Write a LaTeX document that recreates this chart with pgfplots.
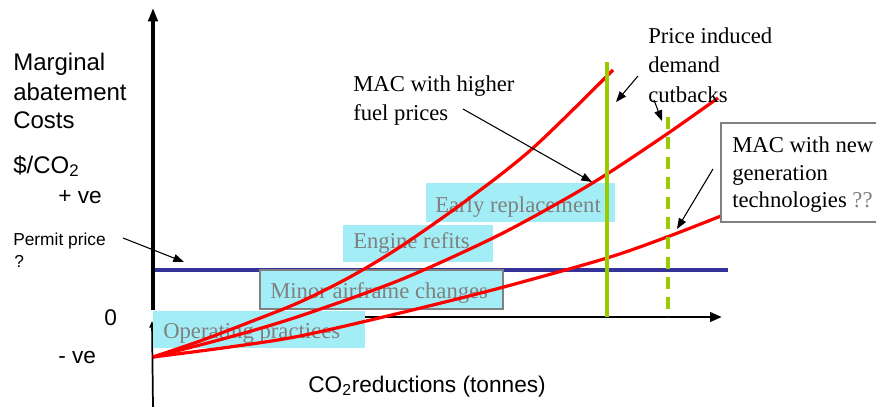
\documentclass[border=0pt]{standalone}
\usepackage{pgfplots}
\pgfplotsset{compat=1.18}
\usepackage{fontspec}
\setmainfont{Liberation Serif}
\newfontfamily\sansf{Liberation Sans}
\usetikzlibrary{arrows.meta}
\definecolor{boxcyan}{HTML}{A3EEF6}
\definecolor{permitblue}{HTML}{333399}
\definecolor{lgreen}{HTML}{99CC00}
\definecolor{boxgray}{HTML}{808080}
\begin{document}
\begin{tikzpicture}
\begin{axis}[
  hide axis, scale only axis,
  width=657pt, height=305.25pt,
  xmin=0, xmax=876, ymin=0, ymax=407,
  y dir=reverse, clip=false,
]
\coordinate (SW) at (axis cs:0,407);
\coordinate (NE) at (axis cs:876,0);
% permit price line
\addplot[permitblue, line width=2.4pt] coordinates {(153,270) (728,270)};
% x axis
\draw[line width=2.2pt, -{Triangle[length=9pt,width=7pt]}] (axis cs:365,317) -- (axis cs:722,317);
% y axis
\draw[line width=2.4pt, -{Triangle[length=10pt,width=7pt]}] (axis cs:153,310) -- (axis cs:153,8);
\draw[line width=1.3pt, -{Triangle[length=5pt,width=4pt]}] (axis cs:153,407) -- (axis cs:152,321);
% boxes
\fill[boxcyan] (axis cs:153,311) rectangle (axis cs:365,348);
\filldraw[fill=boxcyan, draw=boxgray, line width=0.9pt] (axis cs:260,270) rectangle (axis cs:503,309);
\fill[boxcyan] (axis cs:343,225) rectangle (axis cs:493,262);
\fill[boxcyan] (axis cs:426,183) rectangle (axis cs:615,222);
\node[anchor=base west, inner sep=0pt, text=boxgray, font=\fontsize{17pt}{20pt}\selectfont] at (axis cs:163,338) {Operating practices};
\node[anchor=base west, inner sep=0pt, text=boxgray, font=\fontsize{17pt}{20pt}\selectfont] at (axis cs:270,298) {Minor airframe changes};
\node[anchor=base west, inner sep=0pt, text=boxgray, font=\fontsize{17pt}{20pt}\selectfont] at (axis cs:353,248) {Engine refits};
\node[anchor=base west, inner sep=0pt, text=boxgray, font=\fontsize{17pt}{20pt}\selectfont] at (axis cs:435,212) {Early replacement};
% MAC curves
\addplot[red, line width=2.4pt, smooth] coordinates {(153,357) (200,341) (250,322) (300,302) (350,277) (400,247) (467,200) (533,148) (613,70)};
\addplot[red, line width=2.4pt, smooth] coordinates {(153,357) (230,337) (300,316) (400,280) (493,238) (560,202) (607,174) (667,134) (718,98)};
\addplot[red, line width=2.4pt, smooth] coordinates {(153,357) (230,347) (300,336) (400,313) (500,288) (607,258) (667,237) (721,216)};
% vertical lines
\addplot[lgreen, line width=2.4pt] coordinates {(607,62) (607,317)};
\addplot[lgreen, line width=2.4pt, dash pattern=on 9pt off 6pt] coordinates {(668,117) (668,317)};
% new generation box
\filldraw[fill=white, draw=boxgray, line width=0.9pt] (axis cs:877,123) -- (axis cs:721,123) -- (axis cs:721,222) -- (axis cs:877,222);
% arrows
\draw[line width=0.8pt, -{Triangle[length=8pt,width=6pt]}] (axis cs:123,238) -- (axis cs:184,262);
\draw[line width=0.8pt, -{Triangle[length=8pt,width=6pt]}] (axis cs:463,109) -- (axis cs:592,182);
\draw[line width=0.8pt, -{Triangle[length=8pt,width=6pt]}] (axis cs:638,76) -- (axis cs:616,102);
\draw[line width=0.8pt, -{Triangle[length=8pt,width=6pt]}] (axis cs:654,100) -- (axis cs:662,121);
\draw[line width=0.8pt, -{Triangle[length=8pt,width=6pt]}] (axis cs:713,169) -- (axis cs:677,229);
% left labels (sans)
\node[anchor=base west, inner sep=0pt, font=\sansf\fontsize{18pt}{20pt}\selectfont] at (axis cs:13,70) {Marginal};
\node[anchor=base west, inner sep=0pt, font=\sansf\fontsize{18pt}{20pt}\selectfont] at (axis cs:13,100) {abatement};
\node[anchor=base west, inner sep=0pt, font=\sansf\fontsize{18pt}{20pt}\selectfont] at (axis cs:13,128) {Costs};
\node[anchor=base west, inner sep=0pt, font=\sansf\fontsize{18pt}{20pt}\selectfont] at (axis cs:13,173) {\$/CO\textsubscript{2}};
\node[anchor=base west, inner sep=0pt, font=\sansf\fontsize{17pt}{20pt}\selectfont] at (axis cs:58,203) {+ ve};
\node[anchor=base west, inner sep=0pt, font=\sansf\fontsize{13pt}{15pt}\selectfont] at (axis cs:13,245) {Permit price};
\node[anchor=base west, inner sep=0pt, font=\sansf\fontsize{13pt}{15pt}\selectfont] at (axis cs:14,267) {?};
\node[anchor=base west, inner sep=0pt, font=\sansf\fontsize{17pt}{20pt}\selectfont] at (axis cs:104,325) {0};
\node[anchor=base west, inner sep=0pt, font=\sansf\fontsize{17pt}{20pt}\selectfont] at (axis cs:58,363) {- ve};
\node[anchor=base west, inner sep=0pt, font=\sansf\fontsize{17pt}{20pt}\selectfont] at (axis cs:308,392) {CO\textsubscript{2}reductions (tonnes)};
% serif annotations
\node[anchor=base west, inner sep=0pt, font=\fontsize{17pt}{20pt}\selectfont] at (axis cs:353,91) {MAC with higher};
\node[anchor=base west, inner sep=0pt, font=\fontsize{17pt}{20pt}\selectfont] at (axis cs:353,120) {fuel prices};
\node[anchor=base west, inner sep=0pt, font=\fontsize{17pt}{20pt}\selectfont] at (axis cs:648,43) {Price induced};
\node[anchor=base west, inner sep=0pt, font=\fontsize{17pt}{20pt}\selectfont] at (axis cs:648,72) {demand};
\node[anchor=base west, inner sep=0pt, font=\fontsize{17pt}{20pt}\selectfont] at (axis cs:648,102) {cutbacks};
\node[anchor=base west, inner sep=0pt, font=\fontsize{17pt}{20pt}\selectfont] at (axis cs:732,152) {MAC with new};
\node[anchor=base west, inner sep=0pt, font=\fontsize{17pt}{20pt}\selectfont] at (axis cs:732,180) {generation};
\node[anchor=base west, inner sep=0pt, font=\fontsize{17pt}{20pt}\selectfont] at (axis cs:732,207) {technologies \textcolor{boxgray}{??}};
\end{axis}
\pgfresetboundingbox
\path[use as bounding box] (SW) rectangle (NE);
\end{tikzpicture}
\end{document}
